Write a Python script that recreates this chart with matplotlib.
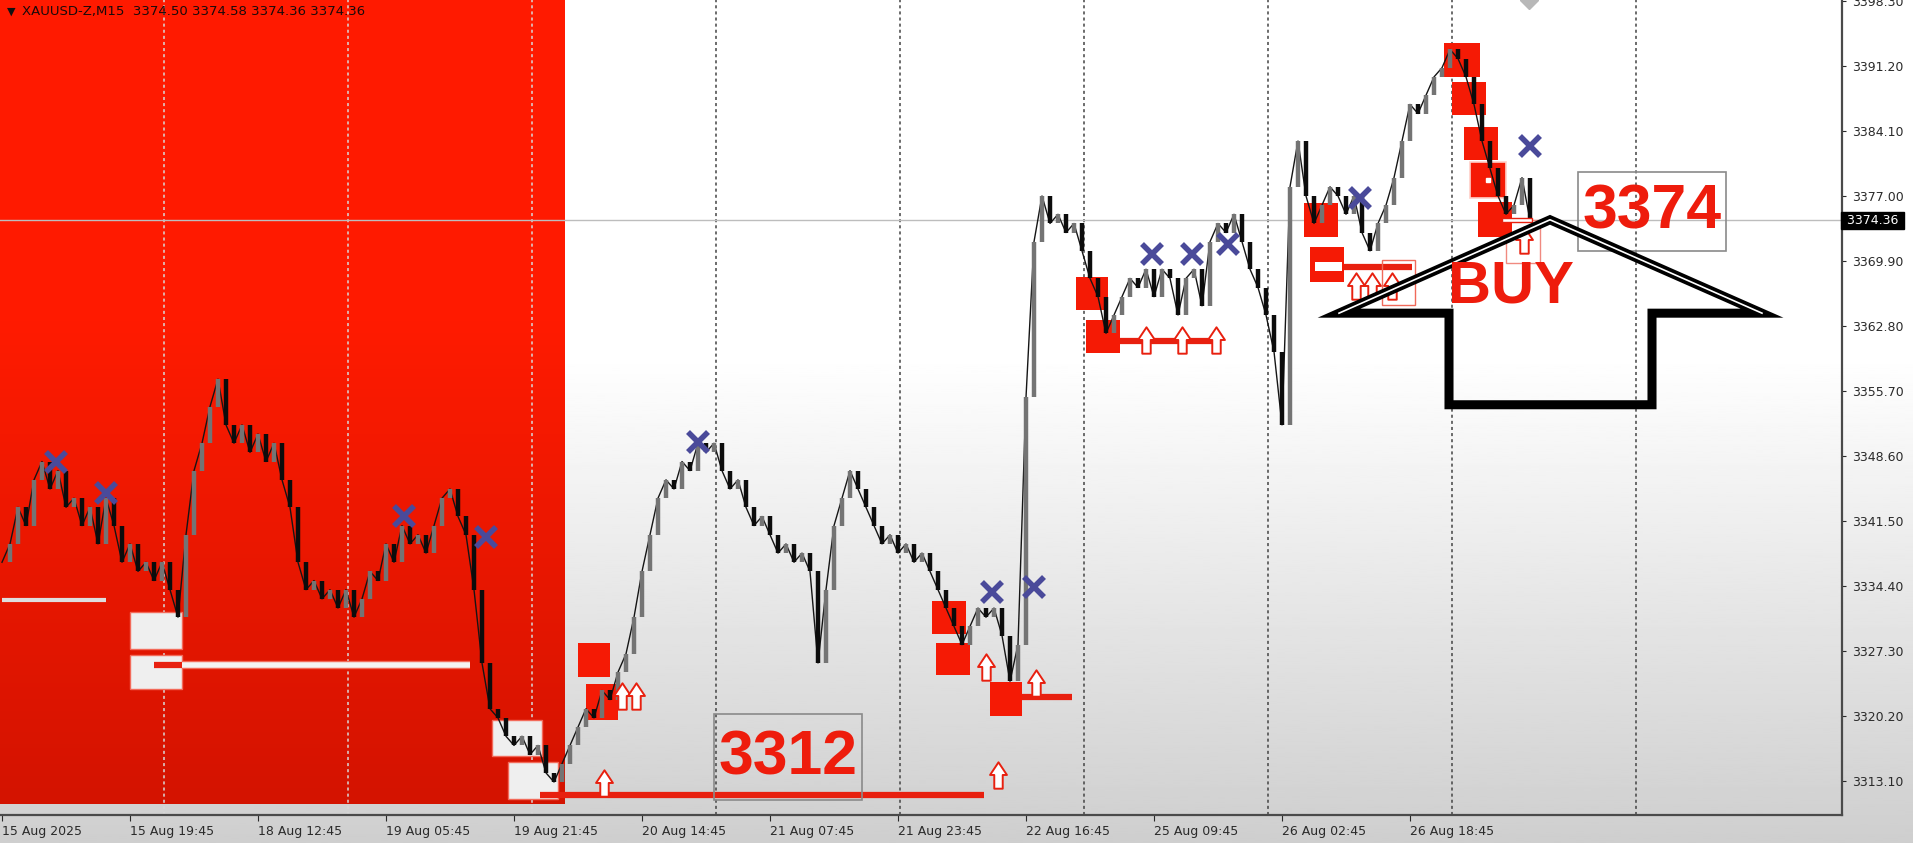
import numpy as np
import matplotlib.pyplot as plt
from matplotlib.patches import Rectangle, Polygon
from matplotlib.path import Path
import matplotlib.transforms as mtransforms

plt.rcParams['font.family'] = ['DejaVu Sans']

# XAUUSD M15 closes (one value every 4 bars)
closes = [
    3337, 3339, 3343, 3341, 3346, 3348, 3345, 3347, 3343, 3344, 3341, 3343, 3339, 3344, 3341, 3337,
    3339, 3336, 3337, 3335, 3337, 3334, 3331, 3340, 3347, 3350, 3354, 3357, 3352, 3350, 3352, 3349,
    3351, 3348, 3350, 3346, 3343, 3337, 3334, 3335, 3333, 3334, 3332, 3334, 3331, 3333, 3336, 3335,
    3339, 3337, 3341, 3339, 3340, 3338, 3341, 3344, 3345, 3342, 3340, 3334, 3326, 3321, 3320, 3318,
    3317, 3318, 3316, 3317, 3314, 3313, 3315, 3317, 3319, 3321, 3320, 3323, 3322, 3325, 3327, 3331,
    3336, 3340, 3344, 3346, 3345, 3348, 3347, 3350, 3349, 3350, 3347, 3345, 3346, 3343, 3341, 3342,
    3340, 3338, 3339, 3337, 3338, 3336, 3326, 3334, 3341, 3344, 3347, 3345, 3343, 3341, 3339, 3340,
    3338, 3339, 3337, 3338, 3336, 3334, 3332, 3330, 3328, 3330, 3332, 3331, 3332, 3329, 3324, 3328,
    3355, 3372, 3377, 3374, 3375, 3373, 3374, 3371, 3368, 3366, 3362, 3364, 3366, 3368, 3367, 3369,
    3366, 3369, 3368, 3364, 3368, 3369, 3365, 3372, 3374, 3373, 3375, 3372, 3369, 3367, 3364, 3360,
    3352, 3378, 3383, 3377, 3374, 3376, 3378, 3377, 3375, 3377, 3373, 3371, 3374, 3376, 3379, 3383,
    3387, 3386, 3388, 3390, 3391, 3393, 3392, 3390, 3387, 3383, 3380, 3377, 3375, 3376, 3379, 3374.36,
]
last_price = 3374.36
header = "XAUUSD-Z,M15  3374.50 3374.58 3374.36 3374.36"

time_labels = ["15 Aug 2025", "15 Aug 19:45", "18 Aug 12:45", "19 Aug 05:45", "19 Aug 21:45",
               "20 Aug 14:45", "21 Aug 07:45", "21 Aug 23:45", "22 Aug 16:45", "25 Aug 09:45",
               "26 Aug 02:45", "26 Aug 18:45"]
time_label_bars = [0, 64, 128, 192, 256, 320, 384, 448, 512, 576, 640, 704]
price_ticks = [3313.10, 3320.20, 3327.30, 3334.40, 3341.50, 3348.60, 3355.70,
               3362.80, 3369.90, 3377.00, 3384.10, 3391.20, 3398.30]
grid_bars = [81, 173, 265, 357, 449, 541, 633, 725, 817]

# zones: (bar_from, bar_to, price_low, price_high)
red_zones = [
    (288, 304, 3324.5, 3328.2), (292, 308, 3319.8, 3323.7),
    (465, 482, 3329.2, 3332.8), (467, 484, 3324.7, 3328.2), (494, 510, 3320.2, 3323.9),
    (537, 553, 3364.5, 3368.1), (542, 559, 3359.9, 3363.5),
    (651, 668, 3372.5, 3376.2), (654, 671, 3367.6, 3371.4),
    (721, 739, 3390.0, 3393.7), (725, 742, 3385.8, 3389.4), (731, 748, 3380.9, 3384.5),
    (734, 752, 3376.8, 3380.7), (738, 755, 3372.5, 3376.3),
]
white_zones = [(64, 90, 3327.5, 3331.6), (64, 90, 3323.2, 3326.9),
               (245, 270, 3315.8, 3319.8), (253, 278, 3311.1, 3315.2)]
# level lines: (bar_from, bar_to, price)
red_levels = [(269, 491, 3311.6), (509, 535, 3322.3), (559, 606, 3361.2), (670, 705, 3369.2), (76, 90, 3325.8)]
white_levels = [(90, 234, 3325.8)]
gray_levels = [(0, 52, 3332.9)]

arrow_bars = [301, 310, 317, 492, 498, 517, 572, 590, 607, 677, 685, 695, 761]
arrow_prices = [3312.9, 3322.4, 3322.4, 3325.6, 3313.8, 3323.8, 3361.3, 3361.3, 3361.3,
                3367.2, 3367.2, 3367.2, 3372.2]
cross_bars = [27, 52, 201, 242, 348, 495, 516, 575, 595, 613, 679, 764]
cross_prices = [3348.0, 3344.6, 3342.1, 3339.8, 3350.1, 3333.7, 3334.3, 3370.7, 3370.7,
                3371.8, 3376.8, 3382.5]

# big hand-drawn BUY arrow (bar, price)
big_arrow = [(668.5, 3364.2), (774, 3374.4), (880, 3364.2), (825, 3364.2),
             (825, 3354.2), (723.5, 3354.2), (723.5, 3364.2)]

fig = plt.figure(figsize=(19.13, 8.43), dpi=100)

# screen gradient behind everything
bg = fig.add_axes([0, 0, 1, 1], zorder=-10)
frac = np.linspace(0, 1, 400)
shade = np.where(frac < 0.42, 1.0, 1.0 - (frac - 0.42) / 0.58 * 0.19)
bg.imshow(shade[:, None], aspect='auto', cmap='gray', vmin=0, vmax=1, extent=[0, 1, 0, 1])
bg.axis('off')

ax = fig.add_axes([0, 28 / 843, 1842 / 1913, 815 / 843])
ax.set_facecolor('none')

xmin, xmax = -1, 920
ymin, ymax = 3309.4, 3398.4

# red highlighted period
rf = np.linspace(0, 1, 200)
rs = np.where(rf < 0.4, 0.0, (rf - 0.4) / 0.6)
red_img = np.stack([1.0 - 0.17 * rs, 0.105 - 0.03 * rs, 0.0 * rs], axis=1)[:, None, :]
ax.imshow(red_img, aspect='auto', extent=[xmin, 281.5, 3310.6, ymax], zorder=0.5)

# grid
for gb in grid_bars:
    col = '#d8d8d8' if gb < 281.5 else '#444444'
    ax.axvline(gb, color=col, lw=1.1, ls=(0, (2, 2)), zorder=1)

ax.axhline(last_price, color='#bdbdbd', lw=1, zorder=1.2)

for b0, b1, lo, hi in white_zones:
    ax.add_patch(Rectangle((b0, lo), b1 - b0, hi - lo, facecolor='#efefef', edgecolor='#f36a5a', lw=1, zorder=2))
for b0, b1, p in gray_levels:
    ax.plot([b0, b1], [p, p], color='#dedede', lw=3, zorder=2, solid_capstyle='butt')
for b0, b1, p in white_levels:
    ax.plot([b0, b1], [p, p], color='#f26a5a', lw=6, zorder=2.1, solid_capstyle='butt')
    ax.plot([b0, b1], [p, p], color='#f4f4f4', lw=4, zorder=2.2, solid_capstyle='butt')
for b0, b1, p in red_levels:
    ax.plot([b0, b1], [p, p], color='#e8200f', lw=4.5, zorder=2.3, solid_capstyle='butt')

for b0, b1, lo, hi in red_zones:
    ax.add_patch(Rectangle((b0, lo), b1 - b0, hi - lo, facecolor='#f51a05', edgecolor='none', zorder=2.5))
# details inside a few zones
ax.add_patch(Rectangle((656.5, 3368.8), 13.5, 1.0, facecolor='white', edgecolor='none', zorder=2.6))
ax.add_patch(Rectangle((734, 3376.8), 18, 3.9, facecolor='none', edgecolor='#ffd0c8', lw=1.2, zorder=2.6))
ax.plot([743], [3378.7], marker='s', ms=2.5, color='white', zorder=2.6)
ax.add_patch(Rectangle((752, 3369.7), 17, 4.7, facecolor='white', edgecolor='#f08a80', lw=1, zorder=2.4))
ax.add_patch(Rectangle((690, 3365.1), 16.5, 4.9, facecolor='none', edgecolor='#f06a5a', lw=1, zorder=2.4))
ax.add_patch(Rectangle((750, 3374.2), 15, 0.4, facecolor='white', edgecolor='#e8200f', lw=1, zorder=3.2))

# candles: open = previous close
closes_arr = np.array(closes, dtype=float)
bars = np.arange(len(closes_arr)) * 4
opens = np.r_[closes_arr[0], closes_arr[:-1]]
ax.plot(bars, closes_arr, color='#151515', lw=1.0, zorder=3)
down = closes_arr < opens
ax.vlines(bars[~down], opens[~down], closes_arr[~down], color='#747474', lw=3.2, zorder=3.1)
ax.vlines(bars[down], closes_arr[down], opens[down], color='#0c0c0c', lw=3.2, zorder=3.1)

# hollow up arrows
arrow_path = Path([(-0.16, -0.5), (0.16, -0.5), (0.16, 0.02), (0.32, 0.02), (0.0, 0.5),
                   (-0.32, 0.02), (-0.16, 0.02), (-0.16, -0.5)],
                  [Path.MOVETO] + [Path.LINETO] * 6 + [Path.CLOSEPOLY])
ax.plot(arrow_bars, arrow_prices, ls='none', marker=arrow_path, ms=19, mfc='white',
        mec='#e8200f', mew=1.4, zorder=3.3)

ax.plot(cross_bars, cross_prices, ls='none', marker='x', ms=15, mew=4, color='#4a4a9a', zorder=4)

# labels on the chart
ax.add_patch(Rectangle((356, 3311.0), 74, 9.4, facecolor='none', edgecolor='#8a8a8a', lw=1.2, zorder=4))
ax.text(393, 3315.6, "3312", color='#ee1c0c', fontsize=45, fontweight='bold',
        family='Liberation Sans', ha='center', va='center', zorder=5)
ax.add_patch(Rectangle((788, 3371.0), 74, 8.6, facecolor='none', edgecolor='#8a8a8a', lw=1.2, zorder=4))
ax.text(825, 3375.2, "3374", color='#ee1c0c', fontsize=45, fontweight='bold',
        family='Liberation Sans', ha='center', va='center', zorder=5)

ax.add_patch(Polygon(big_arrow, closed=True, fill=False, edgecolor='black', lw=6.5, joinstyle='miter', zorder=5))
head = np.array(big_arrow[:3])
ax.plot(head[:, 0], head[:, 1], color='white', lw=1.2, zorder=5.1)
ax.text(754.5, 3367.1, "BUY", color='#ee1c0c', fontsize=43, fontweight='bold',
        family='Liberation Sans', ha='center', va='center', zorder=5.2)

ax.plot([763.5], [ymax], marker='D', ms=9, color='#b8b8b8', clip_on=True, zorder=5)

ax.text(0.004, 0.992, "\u25bc", transform=ax.transAxes, fontsize=8, color='#111111', ha='left', va='top')
ax.text(0.012, 0.994, header, transform=ax.transAxes, fontsize=9.5, color='#1a0a0a', ha='left', va='top')

# axes and ticks
ax.set_xlim(xmin, xmax)
ax.set_ylim(ymin, ymax)
ax.spines['top'].set_visible(False)
ax.spines['left'].set_visible(False)
for s in ('bottom', 'right'):
    ax.spines[s].set_color('#4a4a4a')
    ax.spines[s].set_linewidth(1.6)
ax.yaxis.tick_right()
ax.set_yticks(price_ticks)
ax.set_yticklabels([f"{p:.2f}" for p in price_ticks])
ax.set_xticks(time_label_bars)
ax.set_xticklabels(time_labels, ha='left')
ax.tick_params(axis='y', length=3, pad=4, labelsize=9, colors='#2a2a2a')
ax.tick_params(axis='x', length=4, pad=3, labelsize=9, colors='#2a2a2a')

tr = mtransforms.blended_transform_factory(ax.transAxes, ax.transData)
ax.text(1.0005, last_price, " 3374.36 ", transform=tr, fontsize=9, color='white', ha='left', va='center',
        bbox=dict(boxstyle='square,pad=0.15', facecolor='black', edgecolor='black'), zorder=6)

fig.savefig('out.png', dpi=100)
